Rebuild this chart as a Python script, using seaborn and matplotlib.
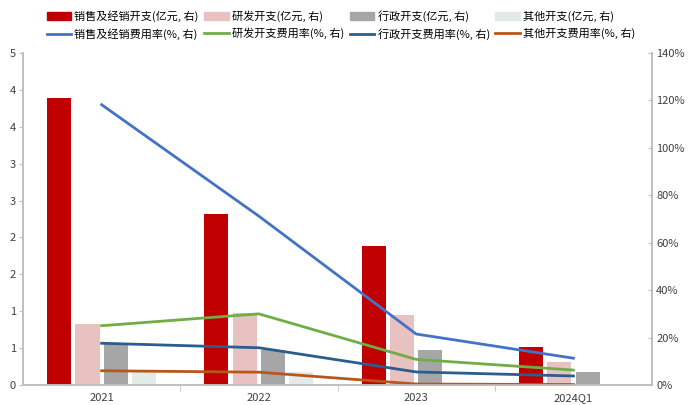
import matplotlib
matplotlib.use('Agg')
import matplotlib.pyplot as plt
import matplotlib.patches as mpatches
import matplotlib.lines as mlines
import pandas as pd
import seaborn as sns

# ---- data ----
categories = ['2021', '2022', '2023', '2024Q1']

bar_names = ['销售及经销开支(亿元, 右)', '研发开支(亿元, 右)', '行政开支(亿元, 右)', '其他开支(亿元, 右)']
sales_exp = [3.89, 2.32, 1.88, 0.52]
rd_exp = [0.83, 0.98, 0.95, 0.31]
admin_exp = [0.56, 0.48, 0.47, 0.17]
other_exp = [0.17, 0.17, 0.02, 0.01]

line_names = ['销售及经销费用率(%, 右)', '研发开支费用率(%, 右)', '行政开支费用率(%, 右)', '其他开支费用率(%, 右)']
sales_ratio = [118.2, 71.2, 21.5, 11.3]
rd_ratio = [25.0, 30.0, 10.8, 6.3]
admin_ratio = [17.6, 15.7, 5.5, 3.8]
other_ratio = [6.0, 5.4, 0.4, 0.2]

left_ticks = [0, 0.5, 1, 1.5, 2, 2.5, 3, 3.5, 4, 4.5]
left_tick_labels = ['0', '1', '1', '2', '2', '3', '3', '4', '4', '5']
right_ticks = [0, 20, 40, 60, 80, 100, 120, 140]

bar_colors = ['#C00000', '#E8C1C1', '#A6A6A6', '#E2EBE8']
line_colors = ['#4472C4', '#70AD47', '#2B5E8E', '#B8561C']

# ---- long tables ----
bar_vals = [sales_exp, rd_exp, admin_exp, other_exp]
line_vals = [sales_ratio, rd_ratio, admin_ratio, other_ratio]

bar_df = pd.DataFrame([
    {'cat': c, 'series': name, 'value': v}
    for name, vals in zip(bar_names, bar_vals)
    for c, v in zip(categories, vals)
])
line_df = pd.DataFrame([
    {'pos': i, 'series': name, 'value': v}
    for name, vals in zip(line_names, line_vals)
    for i, v in enumerate(vals)
])

plt.rcParams['font.family'] = ['Noto Sans CJK SC', 'DejaVu Sans']
plt.rcParams['axes.unicode_minus'] = False

fig = plt.figure(figsize=(6.89, 4.05), dpi=100)
ax = fig.add_axes([0.0334, 0.0494, 0.9129, 0.8197])

sns.barplot(data=bar_df, x='cat', y='value', hue='series', order=categories,
            hue_order=bar_names, palette=bar_colors, width=0.72, gap=0.15,
            ax=ax, legend=False, saturation=1)

ax2 = ax.twinx()
sns.lineplot(data=line_df, x='pos', y='value', hue='series', hue_order=line_names,
             palette=line_colors, linewidth=2, ax=ax2, legend=False)

# left axis
ax.set_xlim(-0.5, 3.5)
ax.set_ylim(0, 4.5)
ax.set_yticks(left_ticks)
ax.set_yticklabels(left_tick_labels)
ax.set_xlabel('')
ax.set_ylabel('')
ax.set_xticks(range(len(categories)))
ax.set_xticklabels(categories)
ax.set_xticks([0.5, 1.5, 2.5], minor=True)
ax.tick_params(axis='x', which='major', length=0, pad=6, labelsize=8, colors='#404040')
ax.tick_params(axis='x', which='minor', length=4, color='#BFBFBF')
ax.tick_params(axis='y', length=3, color='#BFBFBF', labelsize=8, labelcolor='#404040', pad=2)

# right axis
ax2.set_ylim(0, 140)
ax2.set_yticks(right_ticks)
ax2.set_yticklabels([f'{t}%' for t in right_ticks])
ax2.set_ylabel('')
ax2.tick_params(axis='y', length=3, direction='in', color='#BFBFBF', labelsize=8,
                labelcolor='#404040', pad=3)

for a in (ax, ax2):
    a.spines['top'].set_visible(False)
    for s in ('left', 'right', 'bottom'):
        a.spines[s].set_color('#BFBFBF')
        a.spines[s].set_linewidth(1.2)
    a.grid(False)
ax.set_zorder(0)

# legend: bars in first row, lines in second
handles, labels = [], []
for bn, bc, ln, lc in zip(bar_names, bar_colors, line_names, line_colors):
    handles.append(mpatches.Patch(color=bc))
    labels.append(bn)
    handles.append(mlines.Line2D([], [], color=lc, linewidth=2))
    labels.append(ln)
fig.legend(handles, labels, loc='upper center', bbox_to_anchor=(0.495, 1.0), ncol=4,
           frameon=False, fontsize=8, handlelength=2.2, handleheight=0.7,
           handletextpad=0.3, columnspacing=0.5, labelspacing=0.55)

fig.savefig('out.png', dpi=100)
